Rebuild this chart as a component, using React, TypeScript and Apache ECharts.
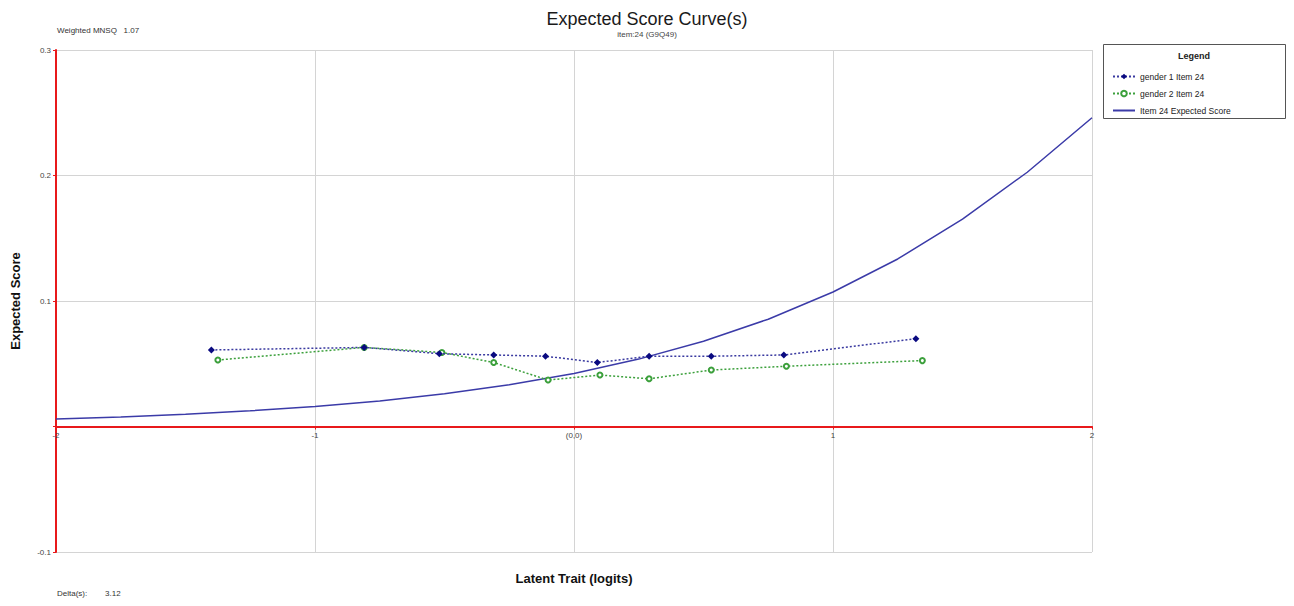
import React, { useEffect, useRef } from "react";
import * as echarts from "echarts";

const gender1X = [-1.4, -0.81, -0.52, -0.31, -0.11, 0.09, 0.29, 0.53, 0.81, 1.32];
const gender1Y = [0.061, 0.063, 0.058, 0.057, 0.056, 0.051, 0.056, 0.056, 0.057, 0.07];
const gender2X = [-1.375, -0.81, -0.51, -0.31, -0.1, 0.1, 0.29, 0.53, 0.82, 1.345];
const gender2Y = [0.053, 0.063, 0.059, 0.051, 0.037, 0.041, 0.038, 0.045, 0.048, 0.0525];
const curveX = [-2, -1.75, -1.5, -1.25, -1, -0.75, -0.5, -0.25, 0, 0.25, 0.5, 0.75, 1, 1.25, 1.5, 1.75, 2];
const curveY = [0.0059, 0.0076, 0.0098, 0.0125, 0.016, 0.0204, 0.0261, 0.0333, 0.0423, 0.0537, 0.0679, 0.0855, 0.1072, 0.1335, 0.1652, 0.2026, 0.246];

const seriesNames = ["gender 1 Item 24", "gender 2 Item 24", "Item 24 Expected Score"];
const FONT = "'Liberation Sans', Arial, sans-serif";

export default function App() {
  const ref = useRef<HTMLDivElement>(null);
  useEffect(() => {
    document.body.style.margin = "0";
    const chart = echarts.init(ref.current!, undefined, { renderer: "svg" });
    const zip = (xs: number[], ys: number[]) => xs.map((x, i) => [x, ys[i]]);
    chart.setOption({
      animation: false,
      textStyle: { fontFamily: FONT },
      title: {
        text: "Expected Score Curve(s)",
        subtext: "item:24 (G9Q49)",
        left: "center",
        top: 5,
        itemGap: 2,
        textStyle: { fontSize: 18, fontWeight: "normal", color: "#1a1a1a", fontFamily: FONT },
        subtextStyle: { fontSize: 8, color: "#444", fontFamily: FONT },
      },
      grid: { left: 56, right: 202, top: 50, bottom: 54, containLabel: false, outerBoundsMode: "none" },
      xAxis: {
        type: "value",
        min: -2,
        max: 2,
        interval: 1,
        offset: -125.5,
        name: "Latent Trait (logits)",
        nameLocation: "middle",
        nameGap: 145,
        nameTextStyle: { fontSize: 13, fontWeight: "bold", color: "#111", fontFamily: FONT },
        axisLine: { onZero: false, lineStyle: { color: "#e8191b", width: 2 } },
        axisTick: { show: true, length: 3, lineStyle: { color: "#e8191b" } },
        axisLabel: {
          fontSize: 8,
          color: "#444",
          margin: 5,
          formatter: (v: number) => (v === 0 ? "(0,0)" : String(v)),
        },
        splitLine: { show: true, lineStyle: { color: "#d4d4d4", width: 1 } },
      },
      yAxis: {
        type: "value",
        min: -0.1,
        max: 0.3,
        interval: 0.1,
        name: "Expected Score",
        nameLocation: "middle",
        nameGap: 34,
        nameTextStyle: { fontSize: 13, fontWeight: "bold", color: "#111", fontFamily: FONT },
        axisLine: { show: true, onZero: false, lineStyle: { color: "#e8191b", width: 2 } },
        axisTick: { show: true, length: 3, lineStyle: { color: "#e8191b" } },
        axisLabel: {
          fontSize: 8,
          color: "#444",
          margin: 5,
          formatter: (v: number) => {
            const r = Math.round(v * 10) / 10;
            return r === 0 ? "" : r.toFixed(1);
          },
        },
        splitLine: { show: true, lineStyle: { color: "#d4d4d4", width: 1 } },
      },
      legend: {
        orient: "vertical",
        left: 1107,
        top: 67,
        itemWidth: 22,
        itemHeight: 7,
        itemGap: 8,
        data: [
          seriesNames[0],
          seriesNames[1],
          { name: seriesNames[2], itemStyle: { color: "transparent", borderWidth: 0, opacity: 0 } },
        ],
        textStyle: { fontSize: 8.5, color: "#222", fontFamily: FONT },
      },
      graphic: [
        {
          type: "rect",
          shape: { x: 1103.5, y: 44.5, width: 182, height: 74 },
          style: { fill: "#fff", stroke: "#555", lineWidth: 1 },
          z: -1,
        },
        {
          type: "text",
          x: 1194,
          y: 51,
          style: { text: "Legend", fontSize: 9, fontWeight: "bold", fill: "#222", align: "center", fontFamily: FONT },
        },
        {
          type: "text",
          x: 57,
          y: 26,
          style: { text: "Weighted MNSQ   1.07", fontSize: 8, fill: "#333", fontFamily: FONT },
        },
        {
          type: "text",
          x: 57,
          y: 589,
          style: { text: "Delta(s):        3.12", fontSize: 8, fill: "#333", fontFamily: FONT },
        },
      ],
      series: [
        {
          name: seriesNames[0],
          type: "line",
          data: zip(gender1X, gender1Y),
          symbol: "diamond",
          symbolSize: 7,
          itemStyle: { color: "#0a0a80" },
          lineStyle: { color: "#3a3aa0", width: 1.5, type: [2, 2] },
          z: 4,
        },
        {
          name: seriesNames[1],
          type: "line",
          data: zip(gender2X, gender2Y),
          symbol: "emptyCircle",
          symbolSize: 5,
          itemStyle: { color: "#3ca03c", borderWidth: 1 },
          lineStyle: { color: "#3ca03c", width: 1.5, type: [2, 2] },
          z: 3,
        },
        {
          name: seriesNames[2],
          type: "line",
          data: zip(curveX, curveY),
          symbol: "none",
          itemStyle: { color: "#3b3ba8" },
          lineStyle: { color: "#3b3ba8", width: 1.5 },
          z: 2,
        },
      ],
    });
    return () => chart.dispose();
  }, []);
  return <div ref={ref} style={{ width: 1294, height: 606, position: "absolute", left: 0, top: 0 }} />;
}
